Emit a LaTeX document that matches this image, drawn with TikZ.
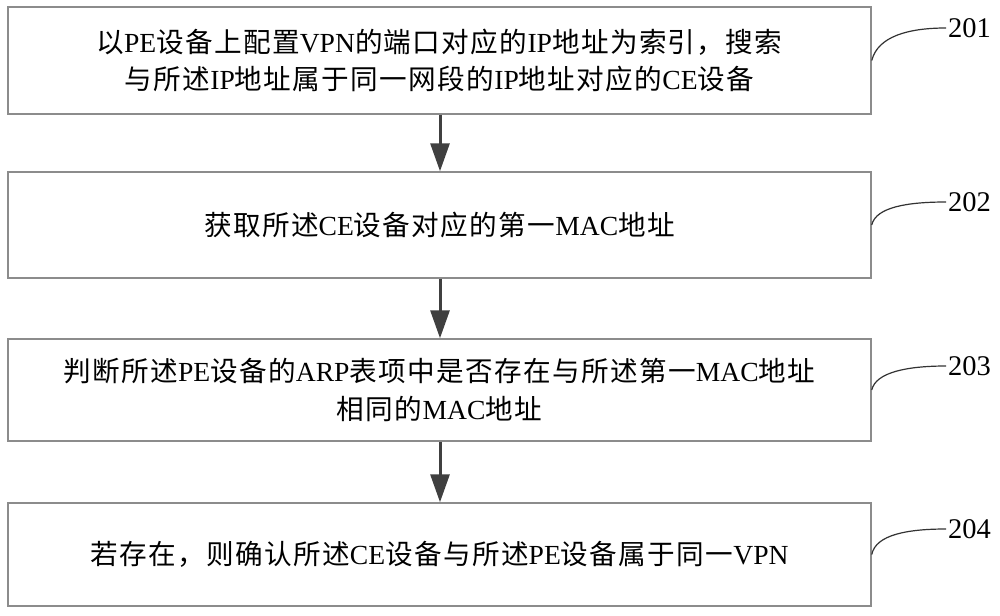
\documentclass[tikz,border=0pt]{standalone}
\usepackage{fontspec}
\setmainfont{Liberation Serif}
\newfontfamily\cjkfont[LetterSpace=5]{Noto Sans CJK SC}
\newcommand{\C}[1]{{\cjkfont #1}}
\usetikzlibrary{arrows.meta}
\definecolor{boxgray}{HTML}{8C8C8C}
\definecolor{arrowgray}{HTML}{404040}
\definecolor{leadgray}{HTML}{333333}
\begin{document}
\begin{tikzpicture}[x=1pt,y=-1pt,
  stepbox/.style={draw=boxgray, line width=1.5pt, minimum width=863pt, inner sep=0pt,
    align=center, font=\fontsize{27.6}{37.5}\selectfont, text=black},
  flow/.style={draw=arrowgray, line width=3pt, -{Triangle[width=19pt,length=28pt]}},
  tag/.style={anchor=west, inner sep=2pt, font=\fontsize{28.5}{30}\selectfont},
  lead/.style={draw=leadgray, line width=1.2pt}]
\useasboundingbox (0,0) rectangle (1000,615);
\fill[white] (0,0) rectangle (1000,615);

\node[stepbox, minimum height=107pt] (b1) at (439.5,60.5)
  {\C{以}PE\C{设备上配置}VPN\C{的端口对应的}IP\C{地址为索引，搜索}\\
   \C{与所述}IP\C{地址属于同一网段的}IP\C{地址对应的}CE\C{设备}};
\node[stepbox, minimum height=106pt] (b2) at (439.5,225)
  {\C{获取所述}CE\C{设备对应的第一}MAC\C{地址}};
\node[stepbox, minimum height=102pt] (b3) at (439.5,390)
  {\C{判断所述}PE\C{设备的}ARP\C{表项中是否存在与所述第一}MAC\C{地址}\\
   \C{相同的}MAC\C{地址}};
\node[stepbox, minimum height=103pt] (b4) at (439.5,554.5)
  {\C{若存在，则确认所述}CE\C{设备与所述}PE\C{设备属于同一}VPN};

\draw[flow] (b1.south -| 440,0) -- (b2.north -| 440,0);
\draw[flow] (b2.south -| 440,0) -- (b3.north -| 440,0);
\draw[flow] (b3.south -| 440,0) -- (b4.north -| 440,0);

\node[tag] (l1) at (946,28) {201};
\node[tag] (l2) at (946,202) {202};
\node[tag] (l3) at (946,366) {203};
\node[tag] (l4) at (946,529) {204};

\draw[lead] (b1.east) .. controls +(6,-24) and +(-38,0) .. (l1.west);
\draw[lead] (b2.east) .. controls +(4,-18) and +(-38,0) .. (l2.west);
\draw[lead] (b3.east) .. controls +(4,-18) and +(-38,0) .. (l3.west);
\draw[lead] (b4.east) .. controls +(4,-20) and +(-38,0) .. (l4.west);
\end{tikzpicture}
\end{document}
